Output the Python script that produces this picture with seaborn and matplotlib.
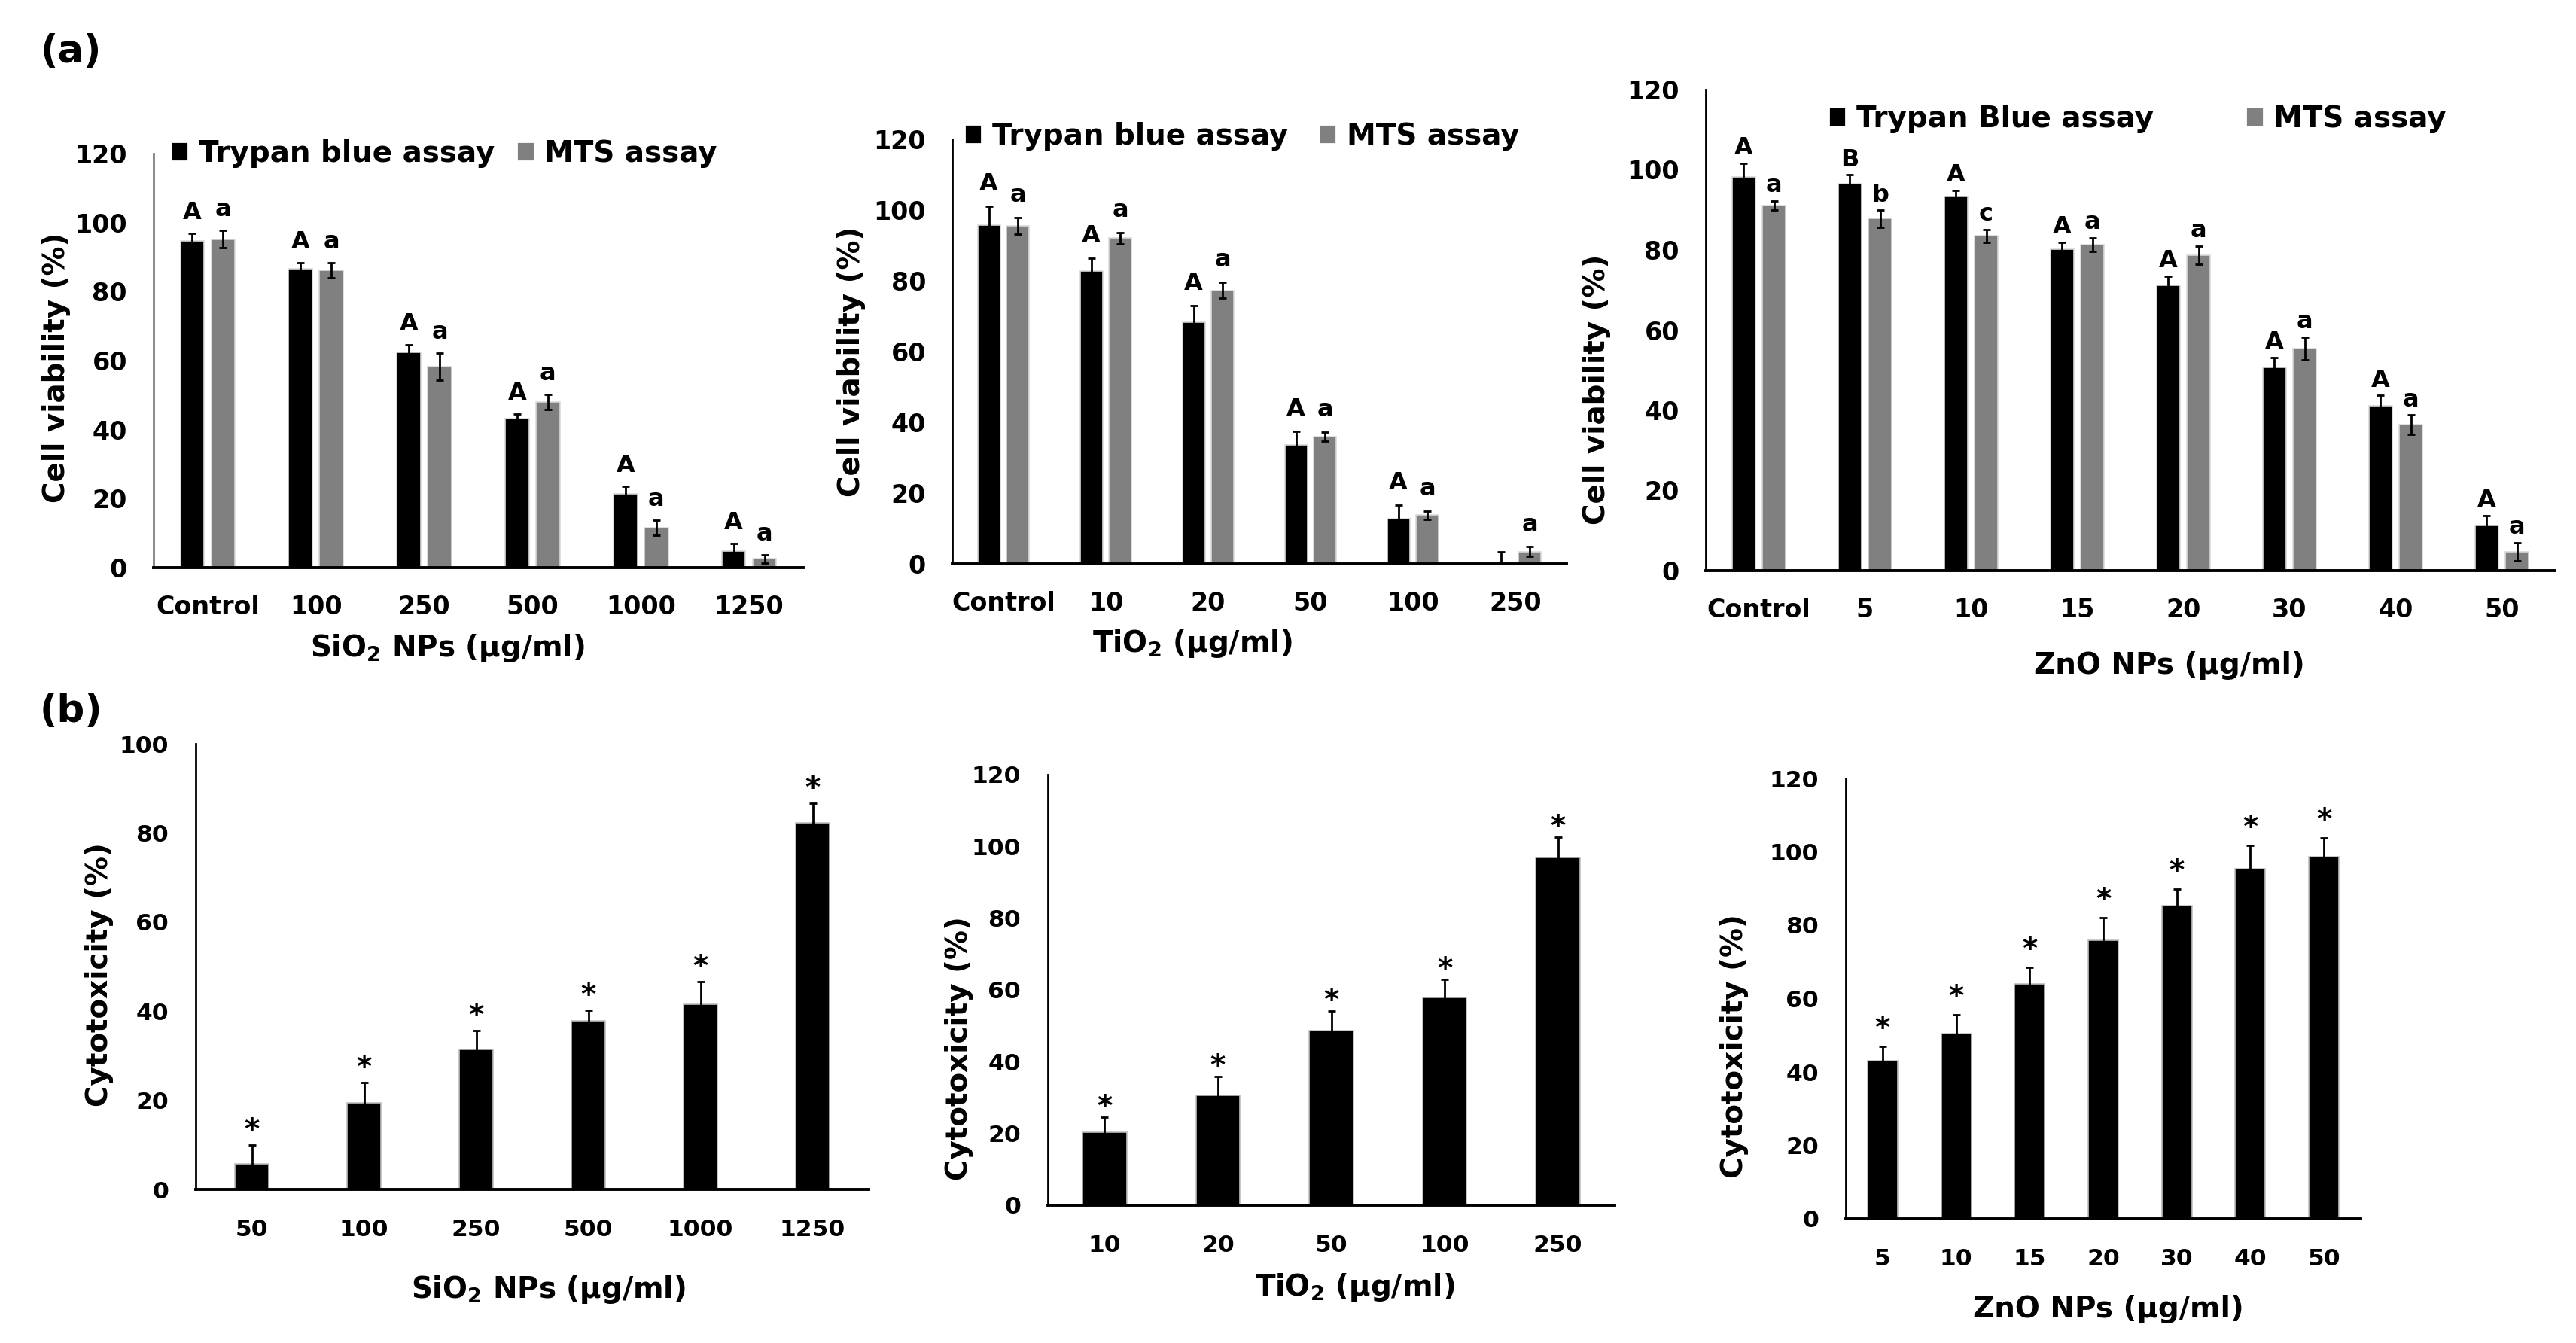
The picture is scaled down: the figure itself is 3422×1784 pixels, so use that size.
import numpy as np
import pandas as pd
import seaborn as sns
import matplotlib.pyplot as plt
from matplotlib.patches import Patch

# ---- data ----
sio2_doses = ['Control', '100', '250', '500', '1000', '1250']
sio2_trypan = [94.8, 86.7, 62.4, 43.3, 21.3, 4.8]
sio2_trypan_err = [2.0, 1.7, 2.2, 1.3, 2.2, 2.2]
sio2_mts = [95.2, 86.2, 58.2, 48.0, 11.6, 2.6]
sio2_mts_err = [2.5, 2.2, 3.9, 2.2, 2.2, 1.2]
sio2_trypan_letters = ['A', 'A', 'A', 'A', 'A', 'A']
sio2_mts_letters = ['a', 'a', 'a', 'a', 'a', 'a']

tio2_doses = ['Control', '10', '20', '50', '100', '250']
tio2_trypan = [95.7, 82.8, 68.3, 33.6, 12.8, 0.0]
tio2_trypan_err = [5.4, 3.6, 4.7, 3.9, 3.9, 3.3]
tio2_mts = [95.5, 92.1, 77.3, 35.9, 13.8, 3.5]
tio2_mts_err = [2.4, 1.6, 2.2, 1.3, 1.2, 1.3]
tio2_trypan_letters = ['A', 'A', 'A', 'A', 'A', '']
tio2_mts_letters = ['a', 'a', 'a', 'a', 'a', 'a']

zno_doses = ['Control', '5', '10', '15', '20', '30', '40', '50']
zno_trypan = [98.3, 96.5, 93.4, 80.2, 71.2, 50.7, 41.2, 11.2]
zno_trypan_err = [3.3, 2.2, 1.5, 1.7, 2.3, 2.5, 2.5, 2.5]
zno_mts = [91.1, 87.8, 83.5, 81.3, 78.7, 55.4, 36.4, 4.7]
zno_mts_err = [1.1, 2.1, 1.6, 1.7, 2.2, 2.8, 2.4, 2.3]
zno_trypan_letters = ['A', 'B', 'A', 'A', 'A', 'A', 'A', 'A']
zno_mts_letters = ['a', 'b', 'c', 'a', 'a', 'a', 'a', 'a']

sio2_cyto_doses = ['50', '100', '250', '500', '1000', '1250']
sio2_cyto = [5.8, 19.5, 31.5, 37.8, 41.6, 82.2]
sio2_cyto_err = [4.2, 4.5, 4.1, 2.4, 5.1, 4.5]

tio2_cyto_doses = ['10', '20', '50', '100', '250']
tio2_cyto = [20.3, 30.6, 48.7, 57.9, 96.9]
tio2_cyto_err = [4.3, 5.3, 5.5, 5.1, 5.7]

zno_cyto_doses = ['5', '10', '15', '20', '30', '40', '50']
zno_cyto = [43.1, 50.4, 64.1, 75.9, 85.3, 95.4, 98.7]
zno_cyto_err = [3.9, 5.1, 4.4, 6.1, 4.5, 6.3, 5.0]

W, H = 3422, 1784
sns.set_style('white')
plt.rcParams['font.family'] = ['DejaVu Sans']
plt.rcParams['font.weight'] = 'bold'
plt.rcParams['text.color'] = 'black'
plt.rcParams['axes.labelcolor'] = 'black'
plt.rcParams['xtick.color'] = 'black'
plt.rcParams['ytick.color'] = 'black'

fig = plt.figure(figsize=(W / 200, H / 200), dpi=200)


def px_axes(x0, x1, y0, y1):
    return fig.add_axes([x0 / W, 1 - y1 / H, (x1 - x0) / W, (y1 - y0) / H])


def fig_xy(x, y):
    return x / W, 1 - y / H


def style(ax, ymax, ystep, left_color='black'):
    ax.set_ylim(0, ymax)
    ax.set_yticks(np.arange(0, ymax + 1, ystep))
    ax.set_xlim(-0.5, len(ax.get_xticks()) - 0.5)
    sns.despine(ax=ax)
    ax.spines['left'].set_color(left_color)
    ax.spines['left'].set_linewidth(1.0)
    ax.spines['bottom'].set_color('black')
    ax.spines['bottom'].set_linewidth(1.4)
    ax.tick_params(axis='both', length=0, labelsize=12, colors='black')
    ax.tick_params(axis='x', pad=13)
    ax.tick_params(axis='y', pad=12.6)
    for lab in ax.get_xticklabels() + ax.get_yticklabels():
        lab.set_fontweight('bold')


def labels(ax, xlabel, ylabel, xpos, ypos):
    ax.set_xlabel(xlabel, fontsize=14, fontweight='bold', va='center', color='black')
    ax.set_ylabel(ylabel, fontsize=14, fontweight='bold', va='center', color='black')
    ax.xaxis.set_label_coords(*fig_xy(*xpos), transform=fig.transFigure)
    ax.yaxis.set_label_coords(*fig_xy(*ypos), transform=fig.transFigure)


def viability_panel(rect, doses, tb, tb_err, mts, mts_err, tb_let, mts_let,
                    tb_name, leg_pos, colsp, let_off, xlabel, xpos, ypos,
                    left_color='black'):
    ax = px_axes(*rect)
    df = pd.DataFrame({
        'dose': doses * 2,
        'value': tb + mts,
        'assay': [tb_name] * len(doses) + ['MTS assay'] * len(doses),
    })
    sns.barplot(data=df, x='dose', y='value', hue='assay', order=doses,
                palette=['black', '#808080'], errorbar=None, width=0.57,
                gap=0.23, edgecolor='#d9d9d9', linewidth=0.6, legend=False,
                ax=ax)
    for cont, errs, lets in zip(ax.containers, [tb_err, mts_err], [tb_let, mts_let]):
        xs = [p.get_x() + p.get_width() / 2 for p in cont]
        hs = [p.get_height() for p in cont]
        ax.errorbar(xs, hs, yerr=errs, fmt='none', ecolor='black',
                    elinewidth=1.0, capsize=1.8, capthick=1.0)
        for x, h, e, t in zip(xs, hs, errs, lets):
            if t:
                ax.annotate(t, (x, h + e), xytext=(0, let_off),
                            textcoords='offset points', ha='center',
                            va='bottom', fontsize=11.5, fontweight='bold',
                            color='black')
    style(ax, 120, 20, left_color)
    labels(ax, xlabel, 'Cell viability (%)', xpos, ypos)
    handles = [Patch(facecolor='black'), Patch(facecolor='#808080')]
    ax.legend(handles, [tb_name, 'MTS assay'], ncol=2, frameon=False,
              loc='center left', bbox_to_anchor=fig_xy(*leg_pos),
              bbox_transform=fig.transFigure, borderpad=0, borderaxespad=0,
              handlelength=0.6, handleheight=0.65, handletextpad=0.35,
              columnspacing=colsp, labelcolor='black',
              prop={'size': 14, 'weight': 'bold'})
    return ax


def cyto_panel(rect, doses, vals, errs, width, ymax, star_off, xlabel,
               xpos, ypos):
    ax = px_axes(*rect)
    df = pd.DataFrame({'dose': doses, 'value': vals})
    sns.barplot(data=df, x='dose', y='value', order=doses, color='black',
                errorbar=None, width=width, edgecolor='#bfbfbf',
                linewidth=0.6, ax=ax)
    cont = ax.containers[0]
    xs = [p.get_x() + p.get_width() / 2 for p in cont]
    hs = [p.get_height() for p in cont]
    ax.errorbar(xs, hs, yerr=errs, fmt='none', ecolor='black',
                elinewidth=1.0, capsize=1.8, capthick=1.0)
    for x, h, e in zip(xs, hs, errs):
        ax.annotate('*', (x, h + e), xytext=(0, star_off),
                    textcoords='offset points', ha='center', va='bottom',
                    fontsize=14, fontweight='bold', color='black')
    style(ax, ymax, 20)
    ax.tick_params(axis='both', labelsize=11.3)
    ax.tick_params(axis='x', pad=14)
    ax.tick_params(axis='y', pad=13)
    labels(ax, xlabel, 'Cytotoxicity (%)', xpos, ypos)
    return ax


sio2_lab = r'SiO$_\mathbf{2}$ NPs (µg/ml)'
tio2_lab = r'TiO$_\mathbf{2}$ (µg/ml)'
zno_lab = 'ZnO NPs (µg/ml)'

viability_panel((204, 1067, 204, 754), sio2_doses, sio2_trypan, sio2_trypan_err,
                sio2_mts, sio2_mts_err, sio2_trypan_letters, sio2_mts_letters,
                'Trypan blue assay', (227, 204), 0.75, 4.3, sio2_lab,
                (594, 861), (75, 488), left_color='#808080')
viability_panel((1265, 2081, 185, 749), tio2_doses, tio2_trypan, tio2_trypan_err,
                tio2_mts, tio2_mts_err, tio2_trypan_letters, tio2_mts_letters,
                'Trypan blue assay', (1281, 181), 1.05, 5.0, tio2_lab,
                (1584, 855), (1131, 480))
viability_panel((2266, 3394, 119, 758), zno_doses, zno_trypan, zno_trypan_err,
                zno_mts, zno_mts_err, zno_trypan_letters, zno_mts_letters,
                'Trypan Blue assay', (2429, 158), 3.15, 1.7, zno_lab,
                (2882, 884), (2121, 517))

cyto_panel((260, 1154, 988, 1580), sio2_cyto_doses, sio2_cyto, sio2_cyto_err,
           0.30, 100, 0.0, sio2_lab, (728, 1713), (132, 1295))
cyto_panel((1392, 2145, 1029, 1601), tio2_cyto_doses, tio2_cyto, tio2_cyto_err,
           0.39, 120, -2.2, tio2_lab, (1800, 1710), (1274, 1393))
cyto_panel((2452, 3136, 1034, 1619), zno_cyto_doses, zno_cyto, zno_cyto_err,
           0.41, 120, 1.5, zno_lab, (2801, 1739), (2304, 1390))

fig.text(*fig_xy(94, 69), '(a)', fontsize=18.5, fontweight='bold',
         ha='center', va='center', color='black')
fig.text(*fig_xy(94, 945), '(b)', fontsize=18.5, fontweight='bold',
         ha='center', va='center', color='black')

fig.savefig('out.png', dpi=200, facecolor='white')
